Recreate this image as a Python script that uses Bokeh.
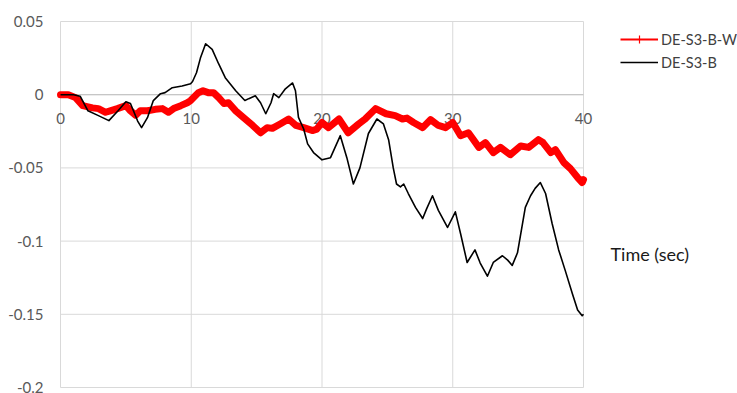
from bokeh.plotting import figure
from bokeh.models import Legend, LegendItem, Label, Range1d
from bokeh.core.properties import value
from bokeh.embed import file_html
from bokeh.resources import INLINE

# ---------------- data ----------------
x_ticks = [0, 10, 20, 30, 40]
x_tick_labels = ["0", "10", "20", "30", "40"]
y_ticks = [0.05, 0, -0.05, -0.1, -0.15, -0.2]
y_tick_labels = ["0.05", "0", "-0.05", "-0.1", "-0.15", "-0.2"]

series_names = ["DE-S3-B-W", "DE-S3-B"]
x_axis_title = "Time (sec)"

t_red = [0, 0.6, 1.15, 1.7, 2.45, 2.9, 3.45, 3.8, 4.35, 5.0, 5.35, 5.75, 6.1, 6.65,
         7.25, 7.8, 8.25, 8.65, 9.2, 9.7, 9.95, 10.55, 10.9, 11.3, 11.7, 12.1, 12.5,
         12.85, 13.4, 14.0, 14.7, 15.3, 15.8, 16.2, 16.8, 17.45, 18.0, 18.6, 19.3,
         19.6, 20.0, 20.5, 21.3, 22.0, 22.8, 23.3, 24.1, 24.9, 25.6, 26.15, 26.5,
         27.0, 27.7, 28.3, 28.9, 29.45, 30.0, 30.6, 31.2, 32.0, 32.5, 33.1, 33.65,
         34.4, 35.2, 35.8, 36.55, 36.9, 37.5, 37.85, 38.5, 39.0, 39.55, 39.9, 40.0]
v_red = [0, 0, -0.002, -0.0075, -0.009, -0.0095, -0.012, -0.011, -0.0095, -0.0075,
         -0.011, -0.014, -0.011, -0.011, -0.010, -0.0095, -0.012, -0.0095, -0.0075,
         -0.0055, -0.004, 0.0014, 0.0027, 0.0014, 0.0014, -0.002, -0.006, -0.0055,
         -0.011, -0.0157, -0.021, -0.026, -0.0225, -0.023, -0.020, -0.0166, -0.021,
         -0.0225, -0.0245, -0.0235, -0.019, -0.0225, -0.0166, -0.026, -0.020, -0.0166,
         -0.0095, -0.013, -0.0143, -0.0166, -0.016, -0.019, -0.0225, -0.017, -0.021,
         -0.0225, -0.019, -0.028, -0.026, -0.036, -0.0327, -0.0396, -0.036, -0.041,
         -0.035, -0.036, -0.0307, -0.0327, -0.0396, -0.0375, -0.0464, -0.0505,
         -0.0566, -0.060, -0.058]

t_black = [0, 0.5, 1.0, 1.5, 2.1, 2.9, 3.7, 4.4, 5.0, 5.35, 5.9, 6.2, 6.65, 7.1,
           7.65, 8.0, 8.55, 9.3, 9.95, 10.1, 10.4, 10.7, 11.1, 11.6, 12.1, 12.6,
           13.4, 14.1, 14.4, 14.9, 15.3, 15.7, 16.1, 16.3, 16.7, 17.2, 17.75, 17.97,
           18.2, 18.6, 18.9, 19.35, 20.0, 20.65, 21.4, 21.9, 22.4, 22.9, 23.55, 24.2,
           24.7, 25.1, 25.45, 25.7, 26.0, 26.25, 26.6, 27.15, 27.7, 28.0, 28.45, 28.9,
           29.6, 30.2, 30.6, 31.1, 31.7, 32.1, 32.65, 33.1, 33.8, 34.2, 34.55, 34.95,
           35.55, 35.95, 36.3, 36.7, 37.1, 37.6, 38.1, 38.6, 39.15, 39.55, 39.9, 40.0]
v_black = [0, 0, 0, -0.001, -0.011, -0.0143, -0.0177, -0.011, -0.0048, -0.006,
           -0.018, -0.0225, -0.0157, -0.004, 0.0007, 0.0014, 0.0048, 0.006, 0.0075,
           0.009, 0.015, 0.025, 0.0348, 0.031, 0.021, 0.0116, 0.0027, -0.004, -0.0027,
           -0.0007, -0.0055, -0.013, -0.0055, 0.0007, -0.002, 0.004, 0.008, 0.0027,
           -0.0155, -0.0234, -0.0336, -0.0395, -0.0445, -0.043, -0.028, -0.043, -0.061,
           -0.05, -0.0265, -0.0166, -0.020, -0.031, -0.05, -0.061, -0.063, -0.061,
           -0.0675, -0.077, -0.0846, -0.078, -0.069, -0.079, -0.0907, -0.080, -0.095,
           -0.1146, -0.106, -0.115, -0.124, -0.1146, -0.110, -0.113, -0.1166, -0.108,
           -0.077, -0.069, -0.064, -0.060, -0.0675, -0.088, -0.106, -0.120, -0.136,
           -0.147, -0.151, -0.150]

# ---------------- layout constants (pixels) ----------------
W, H = 737, 393
PLOT_L, PLOT_R, PLOT_T, PLOT_B = 60, 583, 21, 387
FONT = "Lato"
GRID = "#d9d9d9"
TICK_COL = "#595959"
NAN = float("nan")

x0, x1 = min(x_ticks), max(x_ticks)
y0, y1 = min(y_ticks), max(y_ticks)
sx = (x1 - x0) / (PLOT_R - PLOT_L)
sy = (y1 - y0) / (PLOT_B - PLOT_T)
# the frame fills the whole canvas; ranges keep the plotting area at the right place
xr = Range1d(x0 - PLOT_L * sx, x1 + (W - PLOT_R) * sx)
yr = Range1d(y0 - (H - PLOT_B) * sy, y1 + PLOT_T * sy)

p = figure(width=W, height=H, output_backend="svg", toolbar_location=None,
           x_range=xr, y_range=yr, min_border=0)
p.axis.visible = False
p.grid.visible = False
p.outline_line_color = None
p.background_fill_color = "white"
p.border_fill_color = "white"

# grid (gridlines at every tick, including the plot-area edges)
p.segment(x0=x_ticks, y0=[y0] * len(x_ticks), x1=x_ticks, y1=[y1] * len(x_ticks),
          line_color=GRID, line_width=1)
p.segment(x0=[x0] * len(y_ticks), y0=y_ticks, x1=[x1] * len(y_ticks), y1=y_ticks,
          line_color=GRID, line_width=1)
# horizontal axis line at zero
p.segment(x0=[x0], y0=[0], x1=[x1], y1=[0], line_color="#c6c6c6", line_width=1.2)

# tick labels
p.text(x=[x0] * len(y_ticks), y=y_ticks, text=y_tick_labels, x_offset=-17,
       text_align="right", text_baseline="middle", text_font=value(FONT),
       text_font_size="15px", text_color=TICK_COL)
p.text(x=x_ticks, y=[0] * len(x_ticks), text=x_tick_labels, y_offset=24,
       text_align="center", text_baseline="middle", text_font=value(FONT),
       text_font_size="15px", text_color=TICK_COL)

# series
p.line(t_red, v_red, line_color="#ff0000", line_width=7, line_join="round",
       line_cap="round")
p.line(t_black, v_black, line_color="#000000", line_width=1.6, line_join="round")

# legend with invisible (NaN) proxy renderers
lr1 = p.line([NAN], [NAN], line_color="#ff0000", line_width=2)
lr1b = p.scatter([NAN], [NAN], marker="cross", size=7, line_color="#ff0000",
                 line_width=1.2)
lr2 = p.line([NAN], [NAN], line_color="#000000", line_width=1.6)
legend = Legend(items=[LegendItem(label=series_names[0], renderers=[lr1, lr1b]),
                       LegendItem(label=series_names[1], renderers=[lr2])],
                location=(620, 321), orientation="vertical",
                padding=0, margin=0, spacing=3, glyph_width=38, glyph_height=20,
                label_height=20, label_standoff=3,
                label_text_font=FONT, label_text_font_size="14.5px",
                label_text_color="#404040",
                border_line_color=None, background_fill_alpha=0)
p.add_layout(legend, "center")

p.add_layout(Label(x=610, y=H - 253, x_units="screen", y_units="screen",
                   text=x_axis_title, text_font=FONT,
                   text_font_size="18px", text_color="#1a1a1a",
                   text_baseline="middle", text_align="left"))

open("out.html", "w").write(file_html(p, INLINE))
